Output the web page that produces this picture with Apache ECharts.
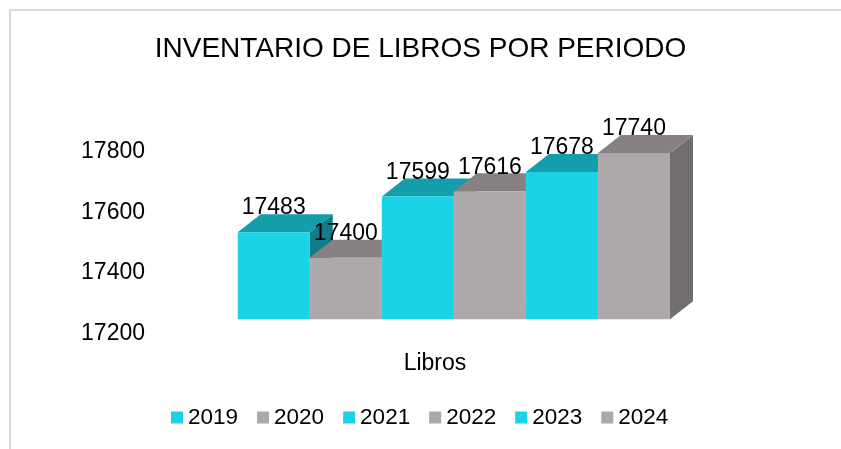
<!DOCTYPE html>
<html>
<head>
<meta charset="utf-8">
<script src="https://cdn.jsdelivr.net/npm/echarts@6/dist/echarts.min.js"></script>
<style>
html, body { margin: 0; padding: 0; background: #fff; }
#container { width: 841px; height: 449px; }
</style>
</head>
<body>
<div id="container"></div>
<script>
var years = ['2019', '2020', '2021', '2022', '2023', '2024'];
var libros = [17483, 17400, 17599, 17616, 17678, 17740];
var categories = ['Libros'];
var yMin = 17200;
var yMax = 17800;
var yStep = 200;

var frontColors = ['#1bd3e6', '#ada9a8', '#1bd3e6', '#ada9a8', '#1bd3e6', '#ada9a8'];
var topColors = ['#149eab', '#878281', '#149eab', '#878281', '#149eab', '#878281'];
var sideColors = ['#0f7e88', '#716e6d', '#0f7e88', '#716e6d', '#0f7e88', '#716e6d'];
var depthX = 23, depthY = 18;

var dom = document.getElementById('container');
var myChart = echarts.init(dom);

function renderItem(params, api) {
    var i = params.seriesIndex;
    var top = api.coord([api.value(0), api.value(1)]);
    var base = api.coord([api.value(0), yMin]);
    var band = api.size([1, 0])[0];
    var w = band / years.length;
    var x0 = top[0] - band / 2 + i * w;
    var x1 = x0 + w;
    var yt = top[1], yb = base[1];
    return {
        type: 'group',
        children: [{
            type: 'polygon',
            shape: { points: [[x1, yt], [x1 + depthX, yt - depthY], [x1 + depthX, yb - depthY], [x1, yb]] },
            style: { fill: sideColors[i] }
        }, {
            type: 'polygon',
            shape: { points: [[x0, yt], [x0 + depthX, yt - depthY], [x1 + depthX, yt - depthY], [x1, yt]] },
            style: { fill: topColors[i] }
        }, {
            type: 'rect',
            shape: { x: x0, y: yt, width: w, height: yb - yt },
            style: { fill: frontColors[i] }
        }, {
            type: 'text',
            x: x0 + w / 2,
            y: yt - 24,
            style: {
                text: String(api.value(1)),
                fill: '#000',
                font: '23px "Liberation Sans", Arial, sans-serif',
                align: 'center',
                verticalAlign: 'middle'
            }
        }]
    };
}

var series = [];
var legendData = [];
for (var i = 0; i < years.length; i++) {
    series.push({
        name: years[i],
        type: 'custom',
        xAxisIndex: 0,
        yAxisIndex: 0,
        renderItem: renderItem,
        itemStyle: { color: frontColors[i] },
        encode: { x: 0, y: 1 },
        data: [[categories[0], libros[i]]]
    });
    legendData.push({ name: years[i], itemStyle: { color: frontColors[i] } });
}

option = {
    animation: false,
    textStyle: { fontFamily: '"Liberation Sans", Arial, sans-serif' },
    graphic: [{
        type: 'rect',
        shape: { x: 10, y: 10, width: 900, height: 500 },
        style: { fill: 'none', stroke: '#d9d9d9', lineWidth: 2 },
        silent: true
    }],
    title: {
        text: 'INVENTARIO DE LIBROS POR PERIODO',
        left: 'center',
        top: 30,
        textStyle: { fontSize: 28, fontWeight: 'normal', color: '#000' }
    },
    legend: {
        data: legendData,
        left: 166,
        top: 401,
        icon: 'rect',
        itemWidth: 12,
        itemHeight: 12,
        itemGap: 19,
        textStyle: { fontSize: 22.5, color: '#000' }
    },
    grid: [
        { left: 237.7, top: 134.5, width: 432.3, height: 184.8 },
        { left: 153, top: 151.7, width: 564, height: 181.6 }
    ],
    xAxis: [{
        gridIndex: 0,
        type: 'category',
        data: categories,
        show: false
    }, {
        gridIndex: 1,
        type: 'category',
        data: categories,
        axisLine: { show: false },
        axisTick: { show: false },
        axisLabel: { fontSize: 23, color: '#000', margin: 19 }
    }],
    yAxis: [{
        gridIndex: 0,
        type: 'value',
        min: yMin,
        max: yMax,
        interval: yStep,
        show: false
    }, {
        gridIndex: 1,
        type: 'value',
        min: yMin,
        max: yMax,
        interval: yStep,
        axisLine: { show: false },
        axisTick: { show: false },
        splitLine: { show: false },
        axisLabel: {
            fontSize: 23,
            color: '#000',
            margin: 8,
            formatter: function (v) { return String(v); }
        }
    }],
    series: series
};
if (option && typeof option === 'object') {
    myChart.setOption(option, true);
}
</script>
</body>
</html>
